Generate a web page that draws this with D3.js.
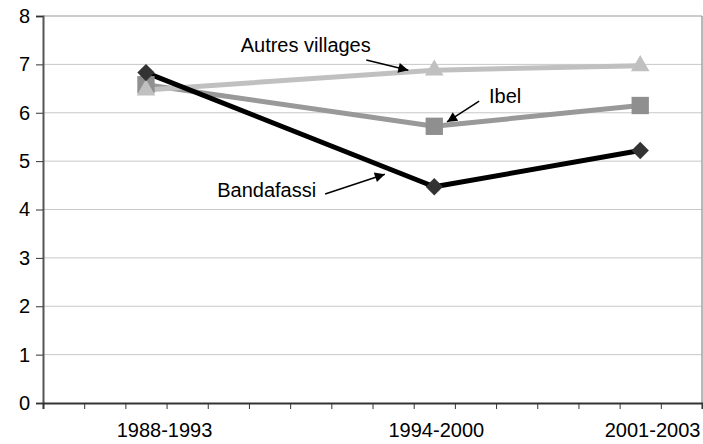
<!DOCTYPE html>
<html>
<head>
<meta charset="utf-8">
<script src="https://cdn.jsdelivr.net/npm/d3@7"></script>
<style>
  body { margin: 0; background: #fff; }
  text { font-family: "Liberation Sans", Arial, sans-serif; }
</style>
</head>
<body>
<svg width="703" height="444"></svg>
<script>
// periods shown on the x axis, placed on a yearly scale
var periods = ["1988-1993", "1994-2000", "2001-2003"];
var periodYears = [1990.5, 1997.5, 2002.5];     // where the points sit
var labelYears = [1990.95, 1997.55, 2002.8];    // where the labels sit
var yTicks = [0, 1, 2, 3, 4, 5, 6, 7, 8];

var bandafassi = [6.83, 4.47, 5.22];
var ibel = [6.58, 5.72, 6.15];
var autres = [6.47, 6.88, 6.97];

// annotations in data units: text anchor, arrow start, arrow end
var annText = ["Autres villages", "Ibel", "Bandafassi"];
var annPos = [[1992.8, 7.25], [1998.83, 6.2], [1992.23, 4.26]];
var annFrom = [[1995.85, 7.09], [1998.59, 6.24], [1994.85, 4.32]];
var annTo = [[1996.87, 6.88], [1997.81, 5.81], [1996.3, 4.73]];

var svg = d3.select("svg"),
    margin = {top: 16, right: 1, bottom: 41, left: 43},
    width = 703 - margin.left - margin.right,
    height = 444 - margin.top - margin.bottom,
    g = svg.append("g").attr("transform", "translate(" + margin.left + "," + margin.top + ")");

var x = d3.scaleLinear().domain([1988, 2004]).range([0, width]);
var y = d3.scaleLinear().domain([0, 8]).range([height, 0]);

// gridlines
g.selectAll(".grid").data(yTicks.slice(1)).enter().append("line")
    .attr("x1", 0).attr("x2", width)
    .attr("y1", function(d) { return y(d); }).attr("y2", function(d) { return y(d); })
    .attr("stroke", function(d) { return d == 8 ? "#999" : "#c8c8c8"; })
    .attr("stroke-width", 1);

// right border
g.append("line").attr("x1", width).attr("x2", width).attr("y1", 0).attr("y2", height)
    .attr("stroke", "#a0a0a0").attr("stroke-width", 1.5);

// y axis
var yAxis = g.append("g")
    .call(d3.axisLeft(y).tickValues(yTicks).tickSize(7).tickPadding(6).tickFormat(d3.format("d")));
yAxis.select(".domain").attr("stroke", "#555").attr("stroke-width", 2);
yAxis.selectAll(".tick line").attr("stroke", "#333");
yAxis.selectAll("text").style("font-size", "20px").attr("fill", "#000")
    .style("font-family", "Liberation Sans, Arial, sans-serif");

// x axis: yearly ticks, no tick labels
var xAxis = g.append("g").attr("transform", "translate(0," + height + ")")
    .call(d3.axisBottom(x).tickValues(d3.range(1988, 2005)).tickSize(6).tickFormat(""));
xAxis.select(".domain").attr("stroke", "#333").attr("stroke-width", 2);
xAxis.selectAll(".tick line").attr("stroke", "#333");

g.selectAll(".xlab").data(periods).enter().append("text")
    .attr("x", function(d, i) { return x(labelYears[i]); })
    .attr("y", height + 34)
    .attr("text-anchor", "middle")
    .style("font-size", "20px")
    .text(function(d) { return d; });

// series
var series = [
  {name: "Ibel", values: ibel, color: "#999999", fill: "#8f8f8f", shape: "square"},
  {name: "Autres villages", values: autres, color: "#c0c0c0", fill: "#c0c0c0", shape: "triangle"},
  {name: "Bandafassi", values: bandafassi, color: "#000", fill: "#333", shape: "diamond"}
];

var line = d3.line()
    .x(function(d, i) { return x(periodYears[i]); })
    .y(function(d) { return y(d); });

series.forEach(function(s) {
  g.append("path").datum(s.values)
      .attr("d", line)
      .attr("fill", "none")
      .attr("stroke", s.color)
      .attr("stroke-width", 5)
      .attr("stroke-linejoin", "round");
});

series.forEach(function(s) {
  var sym;
  if (s.shape == "square") sym = d3.symbol().type(d3.symbolSquare).size(300);
  else if (s.shape == "triangle") sym = d3.symbol().type(d3.symbolTriangle).size(150);
  else sym = d3.symbol().type(d3.symbolSquare).size(150);
  g.selectAll(null).data(s.values).enter().append("path")
      .attr("d", sym)
      .attr("transform", function(d, i) {
        return "translate(" + x(periodYears[i]) + "," + y(d) + ")" + (s.shape == "diamond" ? " rotate(45)" : "");
      })
      .attr("fill", s.fill);
});

// annotations
svg.append("defs").append("marker")
    .attr("id", "arrow")
    .attr("viewBox", "0 0 10 10")
    .attr("refX", 10).attr("refY", 5)
    .attr("markerWidth", 13).attr("markerHeight", 10)
    .attr("markerUnits", "userSpaceOnUse")
    .attr("orient", "auto")
    .append("path").attr("d", "M0,0L10,5L0,10z").attr("fill", "#000");

annText.forEach(function(t, i) {
  g.append("text")
      .attr("x", x(annPos[i][0])).attr("y", y(annPos[i][1]))
      .style("font-size", "20px")
      .text(t);
  g.append("line")
      .attr("x1", x(annFrom[i][0])).attr("y1", y(annFrom[i][1]))
      .attr("x2", x(annTo[i][0])).attr("y2", y(annTo[i][1]))
      .attr("stroke", "#000").attr("stroke-width", 1.5)
      .attr("marker-end", "url(#arrow)");
});
</script>
</body>
</html>
